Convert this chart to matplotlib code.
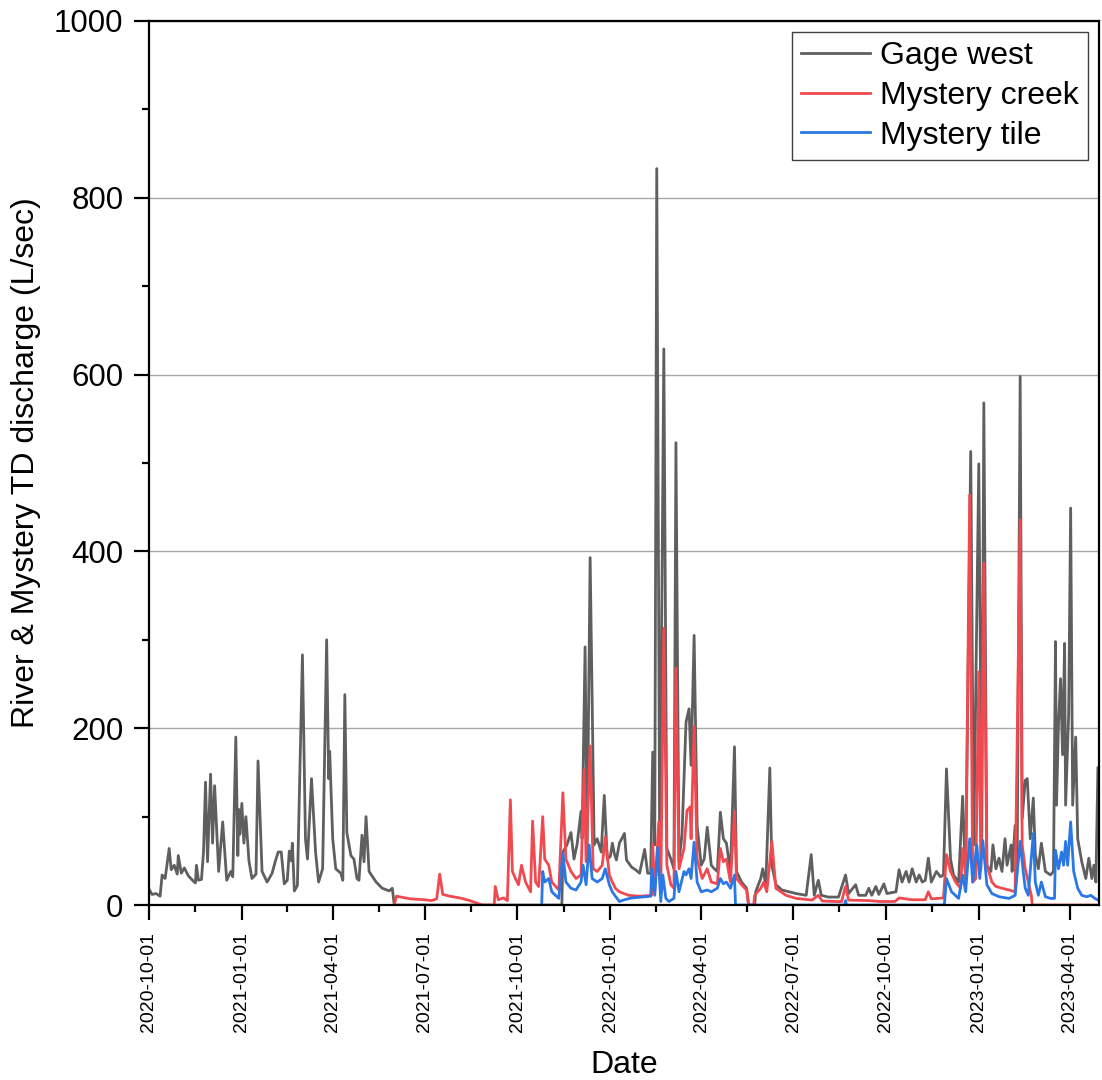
import numpy as np
import pandas as pd
import matplotlib
matplotlib.use('Agg')
import matplotlib.pyplot as plt
import matplotlib.dates as mdates
from matplotlib.ticker import MultipleLocator, FixedLocator

plt.rcParams['font.family'] = ['Liberation Sans', 'DejaVu Sans']

# Gage west (L/sec)
gage_dates = [
    '2020-10-01', '2020-10-04', '2020-10-08', '2020-10-12', '2020-10-14', '2020-10-17',
    '2020-10-21', '2020-10-23', '2020-10-26', '2020-10-29', '2020-10-30', '2020-11-02',
    '2020-11-05', '2020-11-09', '2020-11-14', '2020-11-16', '2020-11-17', '2020-11-19',
    '2020-11-22', '2020-11-24', '2020-11-26', '2020-11-28', '2020-12-01', '2020-12-03',
    '2020-12-05', '2020-12-09', '2020-12-13', '2020-12-17', '2020-12-21', '2020-12-23',
    '2020-12-26', '2020-12-28', '2020-12-29', '2020-12-30', '2021-01-01', '2021-01-03',
    '2021-01-05', '2021-01-08', '2021-01-11', '2021-01-15', '2021-01-17', '2021-01-21',
    '2021-01-26', '2021-01-31', '2021-02-03', '2021-02-06', '2021-02-09', '2021-02-12',
    '2021-02-15', '2021-02-17', '2021-02-19', '2021-02-20', '2021-02-22', '2021-02-25',
    '2021-03-02', '2021-03-05', '2021-03-07', '2021-03-11', '2021-03-15', '2021-03-18',
    '2021-03-22', '2021-03-26', '2021-03-28', '2021-03-29', '2021-04-01', '2021-04-04',
    '2021-04-09', '2021-04-11', '2021-04-13', '2021-04-15', '2021-04-19', '2021-04-22',
    '2021-04-25', '2021-04-27', '2021-04-30', '2021-05-02', '2021-05-04', '2021-05-07',
    '2021-05-14', '2021-05-20', '2021-05-27', '2021-05-30', '2021-06-01', '2021-11-14',
    '2021-11-15', '2021-11-19', '2021-11-23', '2021-11-26', '2021-11-29', '2021-12-03',
    '2021-12-04', '2021-12-07', '2021-12-09', '2021-12-12', '2021-12-16', '2021-12-19',
    '2021-12-23', '2021-12-26', '2021-12-29', '2022-01-01', '2022-01-03', '2022-01-05',
    '2022-01-07', '2022-01-10', '2022-01-15', '2022-01-17', '2022-01-22', '2022-01-27',
    '2022-01-30', '2022-02-04', '2022-02-07', '2022-02-10', '2022-02-12', '2022-02-14',
    '2022-02-16', '2022-02-19', '2022-02-23', '2022-02-26', '2022-03-02', '2022-03-05',
    '2022-03-07', '2022-03-10', '2022-03-13', '2022-03-17', '2022-03-20', '2022-03-22',
    '2022-03-25', '2022-03-28', '2022-04-01', '2022-04-04', '2022-04-07', '2022-04-11',
    '2022-04-14', '2022-04-17', '2022-04-20', '2022-04-23', '2022-04-26', '2022-04-30',
    '2022-05-04', '2022-05-06', '2022-05-11', '2022-05-16', '2022-05-18', '2022-05-24',
    '2022-05-25', '2022-05-30', '2022-06-01', '2022-06-04', '2022-06-08', '2022-06-10',
    '2022-06-14', '2022-06-20', '2022-06-27', '2022-07-04', '2022-07-14', '2022-07-19',
    '2022-07-22', '2022-07-26', '2022-07-29', '2022-08-05', '2022-08-15', '2022-08-22',
    '2022-08-25', '2022-09-01', '2022-09-04', '2022-09-11', '2022-09-14', '2022-09-17',
    '2022-09-21', '2022-09-24', '2022-09-29', '2022-10-02', '2022-10-11', '2022-10-14',
    '2022-10-17', '2022-10-21', '2022-10-24', '2022-10-27', '2022-10-31', '2022-11-03',
    '2022-11-06', '2022-11-09', '2022-11-12', '2022-11-15', '2022-11-20', '2022-11-24',
    '2022-11-27', '2022-11-30', '2022-12-04', '2022-12-07', '2022-12-12', '2022-12-16',
    '2022-12-19', '2022-12-24', '2022-12-27', '2023-01-01', '2023-01-04', '2023-01-06',
    '2023-01-09', '2023-01-13', '2023-01-15', '2023-01-18', '2023-01-21', '2023-01-24',
    '2023-01-27', '2023-01-29', '2023-02-02', '2023-02-03', '2023-02-06', '2023-02-08',
    '2023-02-11', '2023-02-13', '2023-02-16', '2023-02-18', '2023-02-21', '2023-02-24',
    '2023-02-26', '2023-03-01', '2023-03-04', '2023-03-08', '2023-03-13', '2023-03-16',
    '2023-03-18', '2023-03-19', '2023-03-21', '2023-03-23', '2023-03-25', '2023-03-27',
    '2023-03-28', '2023-03-31', '2023-04-02', '2023-04-04', '2023-04-07', '2023-04-09',
    '2023-04-13', '2023-04-17', '2023-04-20', '2023-04-23', '2023-04-25', '2023-04-27',
    '2023-04-29',
]
gage_q = [
    18, 12, 13, 10, 34, 30,
    64, 40, 45, 35, 56, 36,
    42, 33, 27, 25, 45, 28,
    29, 60, 139, 49, 148, 70,
    135, 38, 94, 28, 38, 32,
    190, 56, 108, 80, 115, 70,
    100, 50, 30, 35, 163, 38,
    26, 36, 49, 60, 60, 24,
    28, 61, 50, 70, 16, 22,
    283, 75, 52, 143, 60, 26,
    41, 300, 143, 174, 75, 41,
    36, 28, 238, 82, 56, 52,
    30, 28, 79, 49, 100, 38,
    26, 19, 16, 19, 0, 0,
    60, 68, 82, 52, 68, 106,
    75, 292, 60, 393, 68, 75,
    60, 124, 52, 55, 70, 58,
    51, 70, 81, 51, 43, 39,
    36, 63, 36, 36, 173, 68,
    833, 38, 629, 64, 52, 41,
    523, 49, 79, 207, 222, 158,
    305, 90, 45, 52, 88, 45,
    41, 38, 105, 75, 70, 38,
    179, 38, 26, 19, 0, 0,
    15, 30, 41, 23, 155, 45,
    23, 17, 15, 13, 11, 57,
    11, 28, 11, 9, 9, 34,
    13, 23, 11, 11, 19, 11,
    21, 12, 24, 13, 15, 40,
    26, 38, 26, 41, 26, 34,
    26, 28, 53, 26, 38, 32,
    34, 154, 52, 34, 26, 123,
    30, 513, 68, 499, 75, 568,
    45, 38, 68, 41, 53, 38,
    75, 45, 68, 38, 90, 41,
    598, 98, 141, 143, 75, 121,
    57, 41, 70, 38, 34, 38,
    298, 113, 207, 256, 170, 296,
    113, 215, 449, 113, 190, 75,
    49, 30, 53, 30, 45, 26,
    155,
]

# Mystery creek (L/sec)
creek_dates = [
    '2021-06-01', '2021-06-03', '2021-06-17', '2021-07-01', '2021-07-08', '2021-07-13',
    '2021-07-16', '2021-07-19', '2021-07-26', '2021-08-05', '2021-08-15', '2021-08-27',
    '2021-09-08', '2021-09-09', '2021-09-12', '2021-09-17', '2021-09-21', '2021-09-24',
    '2021-09-26', '2021-09-29', '2021-10-02', '2021-10-05', '2021-10-09', '2021-10-14',
    '2021-10-16', '2021-10-19', '2021-10-22', '2021-10-26', '2021-10-28', '2021-11-01',
    '2021-11-04', '2021-11-11', '2021-11-15', '2021-11-18', '2021-11-23', '2021-11-28',
    '2021-12-03', '2021-12-06', '2021-12-08', '2021-12-12', '2021-12-15', '2021-12-19',
    '2021-12-24', '2021-12-27', '2021-12-31', '2022-01-03', '2022-01-06', '2022-01-10',
    '2022-01-19', '2022-01-30', '2022-02-11', '2022-02-12', '2022-02-14', '2022-02-18',
    '2022-02-20', '2022-02-23', '2022-02-26', '2022-03-02', '2022-03-05', '2022-03-07',
    '2022-03-10', '2022-03-15', '2022-03-18', '2022-03-21', '2022-03-22', '2022-03-25',
    '2022-03-28', '2022-04-02', '2022-04-07', '2022-04-11', '2022-04-17', '2022-04-20',
    '2022-04-23', '2022-04-26', '2022-04-30', '2022-05-04', '2022-05-06', '2022-05-11',
    '2022-05-16', '2022-05-18', '2022-05-23', '2022-05-24', '2022-05-30', '2022-06-02',
    '2022-06-05', '2022-06-10', '2022-06-14', '2022-06-24', '2022-07-04', '2022-07-20',
    '2022-07-26', '2022-07-30', '2022-08-18', '2022-08-22', '2022-08-25', '2022-09-15',
    '2022-09-25', '2022-10-10', '2022-10-14', '2022-10-27', '2022-11-09', '2022-11-12',
    '2022-11-15', '2022-11-27', '2022-11-30', '2022-12-04', '2022-12-09', '2022-12-14',
    '2022-12-16', '2022-12-19', '2022-12-23', '2022-12-26', '2022-12-29', '2023-01-01',
    '2023-01-03', '2023-01-06', '2023-01-09', '2023-01-14', '2023-01-18', '2023-01-24',
    '2023-01-31', '2023-02-06', '2023-02-11', '2023-02-13', '2023-02-16', '2023-02-19',
    '2023-02-22', '2023-02-23', '2023-04-30',
]
creek_q = [
    0, 10, 7, 6, 5, 7,
    35, 12, 10, 8, 5, 0,
    0, 21, 6, 8, 5, 119,
    38, 30, 23, 45, 26, 15,
    95, 26, 21, 100, 52, 45,
    26, 17, 127, 52, 38, 30,
    34, 153, 49, 180, 41, 38,
    45, 77, 34, 26, 19, 15,
    11, 10, 11, 69, 15, 94,
    19, 313, 45, 23, 19, 268,
    41, 64, 107, 111, 75, 202,
    52, 30, 41, 26, 24, 64,
    49, 52, 26, 106, 30, 23,
    17, 0, 0, 11, 19, 26,
    15, 72, 19, 11, 7.5, 5.6,
    11, 4.5, 3.8, 21, 5.6, 5,
    4, 4, 8, 6, 6, 15,
    7, 8, 57, 38, 26, 19,
    64, 34, 464, 26, 30, 264,
    40, 387, 45, 26, 21, 19,
    17, 15, 436, 68, 41, 26,
    11, 0, 0,
]

# Mystery tile (L/sec)
tile_dates = [
    '2021-10-25', '2021-10-26', '2021-10-28', '2021-11-01', '2021-11-04', '2021-11-11',
    '2021-11-15', '2021-11-18', '2021-11-23', '2021-11-28', '2021-12-03', '2021-12-05',
    '2021-12-08', '2021-12-11', '2021-12-14', '2021-12-19', '2021-12-24', '2021-12-27',
    '2021-12-31', '2022-01-03', '2022-01-06', '2022-01-10', '2022-01-15', '2022-01-22',
    '2022-02-01', '2022-02-10', '2022-02-11', '2022-02-14', '2022-02-17', '2022-02-20',
    '2022-02-22', '2022-02-25', '2022-02-28', '2022-03-05', '2022-03-07', '2022-03-10',
    '2022-03-15', '2022-03-17', '2022-03-20', '2022-03-22', '2022-03-25', '2022-03-28',
    '2022-04-01', '2022-04-07', '2022-04-11', '2022-04-17', '2022-04-20', '2022-04-23',
    '2022-04-26', '2022-04-30', '2022-05-04', '2022-05-05', '2022-08-21', '2022-08-22',
    '2022-08-23', '2022-11-27', '2022-11-28', '2022-11-30', '2022-12-05', '2022-12-12',
    '2022-12-16', '2022-12-19', '2022-12-23', '2022-12-26', '2022-12-30', '2023-01-02',
    '2023-01-05', '2023-01-09', '2023-01-14', '2023-01-21', '2023-01-31', '2023-02-06',
    '2023-02-11', '2023-02-14', '2023-02-16', '2023-02-19', '2023-02-24', '2023-02-26',
    '2023-03-01', '2023-03-04', '2023-03-08', '2023-03-13', '2023-03-17', '2023-03-18',
    '2023-03-21', '2023-03-24', '2023-03-26', '2023-03-28', '2023-03-30', '2023-04-02',
    '2023-04-05', '2023-04-09', '2023-04-13', '2023-04-18', '2023-04-22', '2023-04-26',
    '2023-04-30',
]
tile_q = [
    0, 38, 26, 30, 15, 7.5,
    59, 26, 19, 17, 26, 45,
    23, 68, 30, 26, 30, 41,
    23, 15, 10, 4, 6, 8,
    9, 10, 41, 11, 65, 4,
    34, 7.5, 4, 7.5, 38, 15,
    38, 34, 41, 30, 71, 26,
    15, 17, 15, 19, 30, 24,
    26, 19, 34, 0, 0, 5,
    0, 0, 2, 30, 15, 7.5,
    34, 15, 75, 26, 68, 30,
    73, 23, 13, 9.4, 7.5, 11,
    72, 38, 19, 11, 81, 26,
    11, 26, 9.4, 7.5, 7.5, 62,
    41, 60, 45, 72, 45, 94,
    38, 19, 11, 9.4, 11, 7.5,
    5,
]

fig = plt.figure(figsize=(11.02, 10.80), dpi=100)
ax = fig.add_axes([0.1352, 0.162, 0.862, 0.8186])

ax.plot(pd.to_datetime(gage_dates), gage_q, color='#5f5f5f', lw=2.0, label='Gage west', zorder=3)
ax.plot(pd.to_datetime(creek_dates), creek_q, color='#f04a50', lw=2.0, label='Mystery creek', zorder=4)
ax.plot(pd.to_datetime(tile_dates), tile_q, color='#2b78e4', lw=2.0, label='Mystery tile', zorder=5)

ax.set_xlim(pd.Timestamp('2020-10-01'), pd.Timestamp('2023-04-30'))
ax.set_ylim(0, 1000)

# quarterly major ticks, minor ticks half way between
majors = pd.to_datetime(['2020-10-01', '2021-01-01', '2021-04-01', '2021-07-01', '2021-10-01',
                         '2022-01-01', '2022-04-01', '2022-07-01', '2022-10-01', '2023-01-01',
                         '2023-04-01'])
mnum = mdates.date2num(majors)
ax.xaxis.set_major_locator(FixedLocator(mnum))
ax.xaxis.set_minor_locator(FixedLocator((mnum[:-1] + mnum[1:]) / 2))
ax.xaxis.set_major_formatter(mdates.DateFormatter('%Y-%m-%d'))
ax.yaxis.set_major_locator(MultipleLocator(200))
ax.yaxis.set_minor_locator(MultipleLocator(100))

ax.grid(axis='y', which='major', color='#a8a8a8', lw=1.0, zorder=0)
ax.set_axisbelow(True)

for s in ax.spines.values():
    s.set_linewidth(1.6)
    s.set_zorder(6)

ax.tick_params(axis='both', which='major', direction='out', length=10.5, width=1.6)
ax.tick_params(axis='both', which='minor', direction='out', length=5, width=1.6)
ax.tick_params(axis='y', labelsize=22.5, pad=8)
ax.tick_params(axis='x', labelsize=14, labelrotation=90, pad=9)

ax.set_xlabel('Date', fontsize=23, labelpad=13)
ax.set_ylabel('River & Mystery TD discharge (L/sec)', fontsize=23, labelpad=9)

leg = ax.legend(loc='upper right', fontsize=23, frameon=True, fancybox=False,
                edgecolor='#404040', framealpha=1, handlelength=2.15, handletextpad=0.3,
                borderpad=0.3, labelspacing=0.3, borderaxespad=0.34)
leg.get_frame().set_linewidth(1.0)

fig.savefig('out.png', dpi=100)
